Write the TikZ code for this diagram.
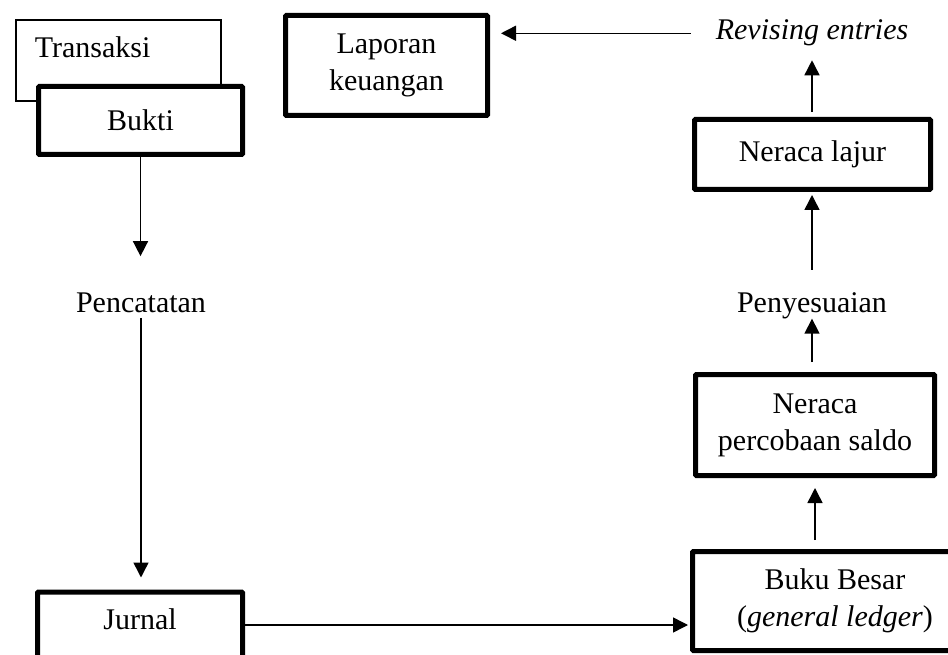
\documentclass[tikz,border=0pt]{standalone}
\usepackage{fontspec}
\setmainfont{Liberation Serif}
\usetikzlibrary{arrows.meta}
\begin{document}
\begin{tikzpicture}[x=1pt,y=-1pt,
  font=\fontsize{30}{37}\selectfont,
  thickbox/.style={draw, line width=5pt, fill=white, inner sep=0pt, align=center, rounded corners=1pt},
  thinbox/.style={draw, line width=1.8pt, fill=white, inner sep=0pt},
  plain/.style={inner sep=0pt},
  arr/.style={line width=1.5pt, -{Triangle[length=15pt,width=15pt]}}]
\clip (0,0) rectangle (948,655);
\fill[white] (0,0) rectangle (948,655);

% boxes
\node[thinbox, anchor=north west, text width=205pt, align=left, text height=38pt, text depth=43pt]
  (trans) at (15,19) {\hspace*{19pt}Transaksi};
\node[thickbox, minimum width=204pt, minimum height=68pt] (bukti) at (140.5,120.5) {Bukti};
\node[thickbox, minimum width=202pt, minimum height=100pt] (lap) at (386.5,65.5) {Laporan\\keuangan};
\node[thickbox, minimum width=236pt, minimum height=70pt] (nlajur) at (812.5,154.5) {Neraca lajur};
\node[thickbox, minimum width=239pt, minimum height=101pt] (npc) at (815,425) {Neraca\\percobaan saldo};
\node[thickbox, minimum width=285pt, minimum height=99pt] (bb) at (835,601) {Buku Besar\\(\textit{general ledger})};
\node[thickbox, anchor=north, minimum width=205pt, text height=37.5pt, text depth=100pt] (jurnal) at (140,589.5) {Jurnal};

% plain texts
\node[plain, anchor=base] (pencat) at (141,312) {Pencatatan};
\node[plain, anchor=base] (penyes) at (812,312) {Penyesuaian};
\node[plain, anchor=base] (rev) at (812,40) {\textit{Revising entries}};

% connectors
\draw[arr, shorten >=36pt] (bukti.south) -- (bukti.south |- pencat.north);
\draw[arr, shorten <=5.5pt, shorten >=12pt] (pencat.south) -- (pencat.south |- jurnal.north);
\coordinate (jb) at (245,625);
\draw[arr, shorten >=2pt] (jb) -- (jb -| bb.west);
\draw[arr, shorten <=9pt, shorten >=10pt] (npc.south |- bb.north) -- (npc.south);
\draw[arr, shorten <=10pt] (npc.north -| penyes.south) -- (penyes.south);
\draw[arr, shorten <=22pt, shorten >=3pt] (penyes.north) -- (penyes.north |- nlajur.south);
\draw[arr, shorten <=5pt, shorten >=13.7pt] (nlajur.north -| rev.south) -- (rev.south);
\draw[arr, shorten <=25pt, shorten >=11pt] (rev.west) -- (rev.west -| lap.east);
\end{tikzpicture}
\end{document}
